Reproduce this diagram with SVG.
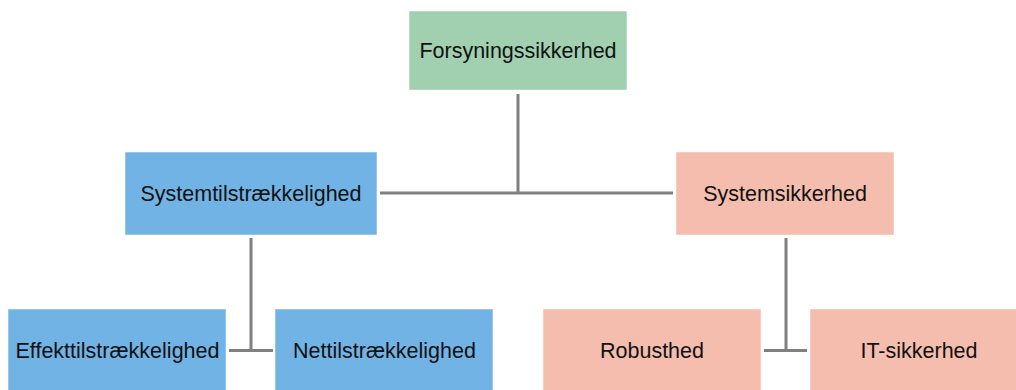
<svg xmlns="http://www.w3.org/2000/svg" width="1016" height="390" viewBox="0 0 1016 390">
<style>
.g{fill:#a0d0b0}
.b{fill:#72b3e5}
.p{fill:#f5bdae}
rect{stroke:#ffffff;stroke-width:1;stroke-opacity:0.5}
text{font-family:"Liberation Sans",Arial,sans-serif;font-size:21.5px;fill:#111;text-anchor:middle}
.c{stroke:#808080;stroke-width:3;fill:none}
</style>
<rect x="0" y="0" width="1016" height="390" fill="#ffffff" stroke="none"/>
<g id="connectors">
<path class="c" d="M518 94V193M380 193H673"/>
<path class="c" d="M251 238V350.5M229 350.5H273"/>
<path class="c" d="M786 238V350.5M764 350.5H807"/>
</g>
<g id="forsyningssikkerhed"><rect class="g" x="409" y="11" width="218" height="79"/><text x="518" y="58">Forsyningssikkerhed</text></g>
<g id="systemtilstraekkelighed"><rect class="b" x="125" y="152" width="252" height="83"/><text x="251" y="201">Systemtilstrækkelighed</text></g>
<g id="systemsikkerhed"><rect class="p" x="676" y="152" width="218" height="83"/><text x="785" y="201">Systemsikkerhed</text></g>
<g id="effekttilstraekkelighed"><rect class="b" x="8" y="309" width="218" height="83"/><text x="117.5" y="358">Effekttilstrækkelighed</text></g>
<g id="nettilstraekkelighed"><rect class="b" x="275" y="309" width="218" height="83"/><text x="384.5" y="358">Nettilstrækkelighed</text></g>
<g id="robusthed"><rect class="p" x="543" y="309" width="218" height="83"/><text x="652" y="358">Robusthed</text></g>
<g id="it-sikkerhed"><rect class="p" x="810" y="309" width="218" height="83"/><text x="919" y="358">IT-sikkerhed</text></g>
</svg>
